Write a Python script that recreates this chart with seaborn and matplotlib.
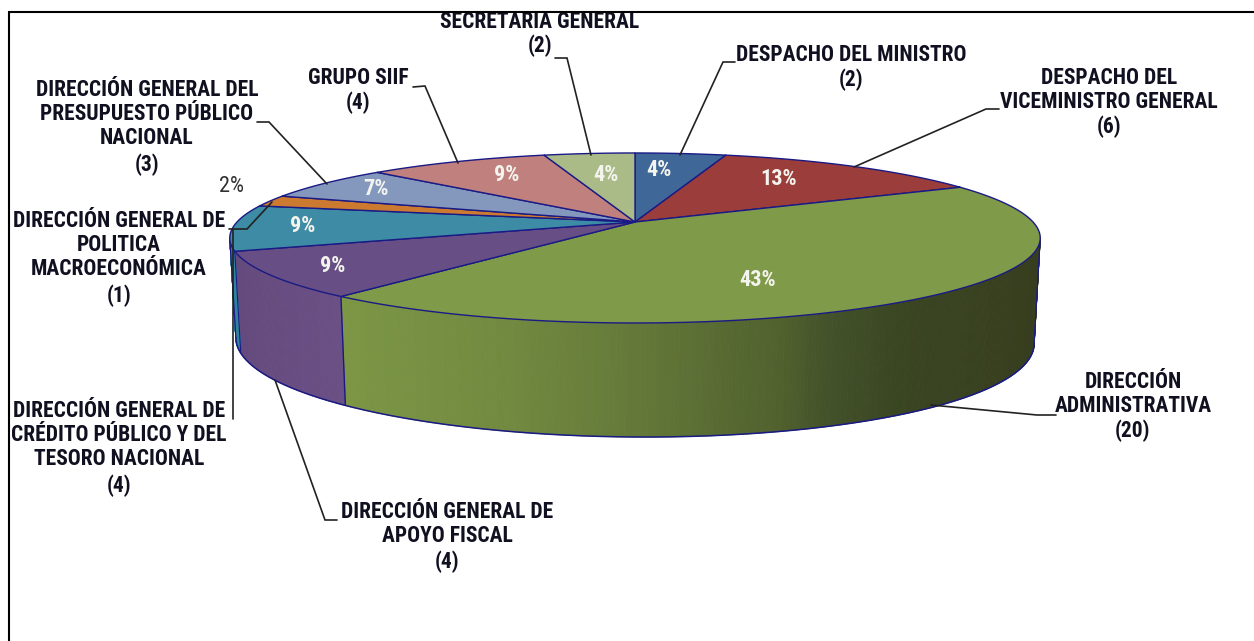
import numpy as np
import matplotlib
matplotlib.use("Agg")
import matplotlib.pyplot as plt
from matplotlib.colors import LinearSegmentedColormap
from matplotlib import font_manager as fm
import seaborn as sns

# ---- data (clockwise from 12 o'clock) ----
categories = ["DESPACHO DEL MINISTRO", "DESPACHO DEL VICEMINISTRO GENERAL",
              "DIRECCIÓN ADMINISTRATIVA", "DIRECCIÓN GENERAL DE APOYO FISCAL",
              "DIRECCIÓN GENERAL DE CRÉDITO PÚBLICO Y DEL TESORO NACIONAL",
              "DIRECCIÓN GENERAL DE POLITICA MACROECONÓMICA",
              "DIRECCIÓN GENERAL DEL PRESUPUESTO PÚBLICO NACIONAL",
              "GRUPO SIIF", "SECRETARIA GENERAL"]
values = [2, 6, 20, 4, 4, 1, 3, 4, 2]
top_colors = ["#3f6797", "#9a3d3b", "#7f9a48", "#674f85", "#3d8ba4",
              "#cc7a30", "#8497bd", "#c0807e", "#abbb88"]

# label text lines, per slice
label_lines = [["DESPACHO DEL MINISTRO", "(2)"],
               ["DESPACHO DEL", "VICEMINISTRO GENERAL", "(6)"],
               ["DIRECCIÓN", "ADMINISTRATIVA", "(20)"],
               ["DIRECCIÓN GENERAL DE", "APOYO FISCAL", "(4)"],
               ["DIRECCIÓN GENERAL DE", "CRÉDITO PÚBLICO Y DEL", "TESORO NACIONAL", "(4)"],
               ["DIRECCIÓN GENERAL DE", "POLITICA", "MACROECONÓMICA", "(1)"],
               ["DIRECCIÓN GENERAL DEL", "PRESUPUESTO PÚBLICO", "NACIONAL", "(3)"],
               ["GRUPO SIIF", "(4)"],
               ["SECRETARIA GENERAL", "(2)"]]
label_x = [851, 1109, 1133, 447, 119, 119, 147, 358, 540]
label_y = [[55, 80], [78, 102, 127], [382, 406, 431], [512, 536, 562],
           [411, 435, 459, 486], [221, 245, 269, 296], [90, 114, 138, 165],
           [78, 103], [22, 46]]
leader_x = [[735, 723, 680], [999, 986, 854], [1056, 1037, 931], [337, 325, 275],
            [233, 233], [229, 247, 272], [257, 269, 327], [413, 425, 458], [555, 567, 591]]
leader_y = [[62, 62, 155], [109, 109, 167], [415, 415, 405], [520, 520, 380],
            [419, 229], [229, 229, 202], [122, 122, 184], [87, 86, 163], [58, 58, 155]]
pct_x = [659, 779, 758, 333, 303, 232, 376, 507, 606]
pct_y = [170, 179, 280, 266, 226, 187, 189, 175, 175]

# ---- geometry of the tilted disc, in image pixels ----
CX, CY, RX, RY, K = 635.0, 222.0, 398.0, 82.0, 0.188
SIDE_R, SIDE_L = np.radians(100.8), np.radians(259.2)


def top_xy(theta):
    w = 1 + K * np.cos(theta)
    return CX + RX * np.sin(theta) / w, CY - RY * np.cos(theta) / w


def bottom_xy(theta):
    x, y = top_xy(theta)
    depth = 100 + 14 * (-np.cos(theta)) + 3 * np.sin(theta)
    return CX + 0.985 * (x - CX), y + depth


sns.set_theme(style="white")
names = {f.name for f in fm.fontManager.ttflist}
narrow = next((n for n in ["Roboto Condensed", "IBM Plex Sans Condensed", "Liberation Sans"]
               if n in names), "DejaVu Sans")
plt.rcParams["font.family"] = [narrow, "DejaVu Sans"]

palette = sns.color_palette(top_colors)
green_cmap = LinearSegmentedColormap.from_list(
    "wall", [(0.0, "#7c9645"), (0.23, "#728a40"), (0.40, "#667b3a"), (0.63, "#50612e"),
             (0.70, "#43522a"), (0.80, "#3a4522"), (1.0, "#373e1f")])
purple_cmap = LinearSegmentedColormap.from_list("wall2", ["#654a7e", "#6a5084"])
teal_cmap = LinearSegmentedColormap.from_list("wall3", ["#2f7f96", "#3387a0"])
EDGE = "#1a1a85"

fig = plt.figure(figsize=(12.54, 6.41), dpi=100, facecolor="white")
ax = fig.add_axes([0, 0, 1, 1])
ax.set_xlim(0, 1254)
ax.set_ylim(641, 0)
ax.axis("off")

fractions = np.array(values, dtype=float) / sum(values)
edges = 2 * np.pi * np.concatenate([[0], np.cumsum(fractions)])

# side wall, one thin band per step so the shading follows the x position
wall_maps = {2: (green_cmap, 340, 1040), 3: (purple_cmap, 232, 342), 4: (teal_cmap, 228, 236)}
for i, (cmap, x0, x1) in wall_maps.items():
    a0 = max(edges[i], SIDE_R)
    a1 = min(edges[i + 1], SIDE_L)
    th = np.linspace(a0, a1, 260 if i == 2 else 60)
    xt, yt = top_xy(th)
    xb, yb = bottom_xy(th)
    for j in range(len(th) - 1):
        c = cmap(np.clip((0.5 * (xt[j] + xt[j + 1]) - x0) / (x1 - x0), 0, 1))
        ax.fill([xt[j], xt[j + 1], xb[j + 1], xb[j]], [yt[j], yt[j + 1], yb[j + 1], yb[j]],
                color=c, lw=0.7, zorder=2)
    if i == 3:
        ax.plot([xt[0], xb[0]], [yt[0], yb[0]], color=EDGE, lw=1.0, zorder=3)
        ax.plot([xt[-1], xb[-1]], [yt[-1], yb[-1]], color=EDGE, lw=0.8, zorder=3)

# outline of the wall
th = np.linspace(SIDE_R, SIDE_L, 300)
xb, yb = bottom_xy(th)
ax.plot(xb, yb, color=EDGE, lw=1.1, zorder=3)
xt, yt = top_xy(np.array([SIDE_R, SIDE_L]))
ax.plot([xt[0], xb[0]], [yt[0], yb[0]], color=EDGE, lw=0.9, zorder=3)
ax.plot([xt[1], xb[-1]], [yt[1], yb[-1]], color=EDGE, lw=0.9, zorder=3)

# top face
for i, col in enumerate(palette):
    th = np.linspace(edges[i], edges[i + 1], 160)
    x, y = top_xy(th)
    ax.fill(np.r_[CX, x], np.r_[CY, y], facecolor=col, edgecolor=EDGE, lw=1.0,
            joinstyle="round", zorder=4)

# leader lines
for lx, ly in zip(leader_x, leader_y):
    ax.plot(lx, ly, color="#222222", lw=1.2, zorder=6, solid_joinstyle="miter")

# category labels
for lines, x, ys in zip(label_lines, label_x, label_y):
    for line, y in zip(lines, ys):
        ax.text(x, y, line, ha="center", va="center", fontsize=15.5, fontweight="bold",
                color="#101020", zorder=7)

# percentage labels
for i, (v, x, y) in enumerate(zip(fractions, pct_x, pct_y)):
    small = i == 5
    ax.text(x, y, f"{v * 100:.0f}%", ha="center", va="center", fontsize=16,
            fontweight="normal" if small else "bold",
            color="#303030" if small else "#f4f4ee", zorder=7)

# clipped top and frame
ax.fill([0, 1254, 1254, 0], [0, 0, 12, 12], color="white", lw=0, zorder=8)
ax.plot([9, 9, 1254], [641, 12, 12], color="black", lw=1.5, zorder=9,
        solid_joinstyle="miter", clip_on=False)

fig.savefig("out.png", dpi=100, facecolor="white")
